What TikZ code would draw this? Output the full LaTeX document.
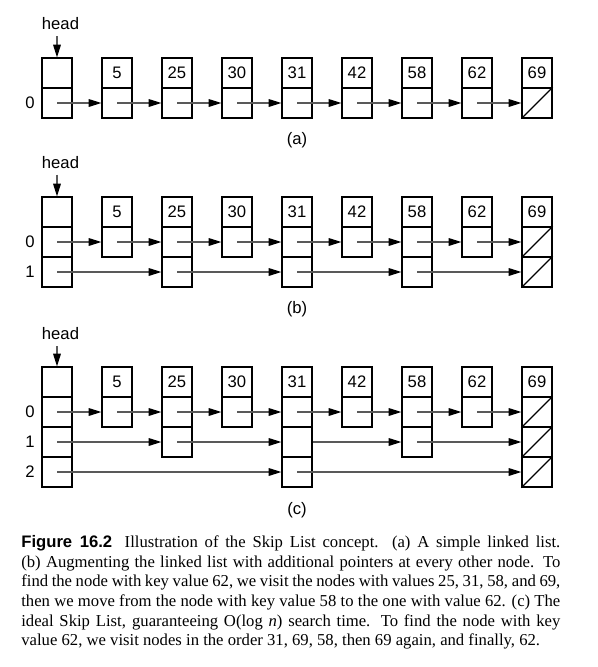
\documentclass[tikz,border=0pt]{standalone}
\usepackage{fontspec}
\setmainfont{Liberation Serif}
\setsansfont{Liberation Sans}
\usetikzlibrary{arrows.meta}
\begin{document}
\begin{tikzpicture}[x=0.6pt,y=-0.6pt,every node/.style={font=\sffamily\fontsize{10}{11}\selectfont},
cell/.style={draw,line width=0.75pt,minimum size=18pt,inner sep=0},
ptr/.style={draw=black!65,line width=0.65pt,-{Triangle[length=7.6pt,width=4.6pt,color=black]}}]
\useasboundingbox(0,0)rectangle(598,667);
% (a) plain linked list
\foreach \v[count=\j from 0] in {{},5,25,30,31,42,58,62,69}{\node[cell](a\j)at(57+60*\j,73){\v};\node[cell](a\j-0)at(57+60*\j,103){};}
\foreach \j in {0,...,7}{\pgfmathtruncatemacro\k{\j+1}\draw[ptr](a\j-0.center)--(a\k-0.west);}
\draw[line width=0.75pt](a8-0.south west)--(a8-0.north east);
\node(ha)at(60.5,24){head};\draw[ptr](a0.north|-ha.south)--(a0.north);
\node(ra0)at(30,103){0};\node(capa)at(297,140){(a)};
% (b) pointers at every other node
\foreach \v[count=\j from 0] in {{},5,25,30,31,42,58,62,69}{\node[cell](b\j)at(57+60*\j,212){\v};\node[cell](b\j-0)at(57+60*\j,242){};}
\foreach \j in {0,2,4,6,8}\node[cell](b\j-1)at(57+60*\j,272){};
\foreach \j in {0,...,7}{\pgfmathtruncatemacro\k{\j+1}\draw[ptr](b\j-0.center)--(b\k-0.west);}
\foreach \j/\k in {0/2,2/4,4/6,6/8}\draw[ptr](b\j-1.center)--(b\k-1.west);
\foreach \l in {0,1}\draw[line width=0.75pt](b8-\l.south west)--(b8-\l.north east);
\node(hb)at(60.5,162.7){head};\draw[ptr](b0.north|-hb.south)--(b0.north);
\node(rb0)at(30,242){0};\node(rb1)at(30,272){1};\node(capb)at(297,309){(b)};
% (c) ideal skip list
\foreach \v[count=\j from 0] in {{},5,25,30,31,42,58,62,69}{\node[cell](c\j)at(57+60*\j,382){\v};\node[cell](c\j-0)at(57+60*\j,412){};}
\foreach \j in {0,2,4,6,8}\node[cell](c\j-1)at(57+60*\j,442){};
\foreach \j in {0,4,8}\node[cell](c\j-2)at(57+60*\j,472){};
\foreach \j in {0,...,7}{\pgfmathtruncatemacro\k{\j+1}\draw[ptr](c\j-0.center)--(c\k-0.west);}
\foreach \j/\k in {0/2,2/4,6/8}\draw[ptr](c\j-1.center)--(c\k-1.west);
\draw[ptr](c4-1.east)--(c6-1.west);
\foreach \j/\k in {0/4,4/8}\draw[ptr](c\j-2.center)--(c\k-2.west);
\foreach \l in {0,1,2}\draw[line width=0.75pt](c8-\l.south west)--(c8-\l.north east);
\node(hc)at(60.5,334){head};\draw[ptr](c0.north|-hc.south)--(c0.north);
\node(rc0)at(30,412){0};\node(rc1)at(30,442){1};\node(rc2)at(30,472){2};\node(capc)at(297,510){(c)};
% caption
\node[font=\rmfamily\fontsize{10}{11.8}\selectfont,text width=323.4pt,align=justify,inner sep=0,anchor=north west](cap)at(21,535.2){\textsf{\bfseries Figure 16.2}\hspace{7.5pt}Illustration of the Skip List concept.  (a) A simple linked list.\linebreak
(b) Augmenting the linked list with additional pointers at every other node.  To\linebreak
find the node with key value 62, we visit the nodes with values 25, 31, 58, and 69,\linebreak
then we move from the node with key value 58 to the one with value 62. (c) The\linebreak
ideal Skip List, guaranteeing O(log~\textit{n}) search time.  To find the node with key\linebreak
value 62, we visit nodes in the order 31, 69, 58, then 69 again, and finally, 62.};
\end{tikzpicture}
\end{document}
